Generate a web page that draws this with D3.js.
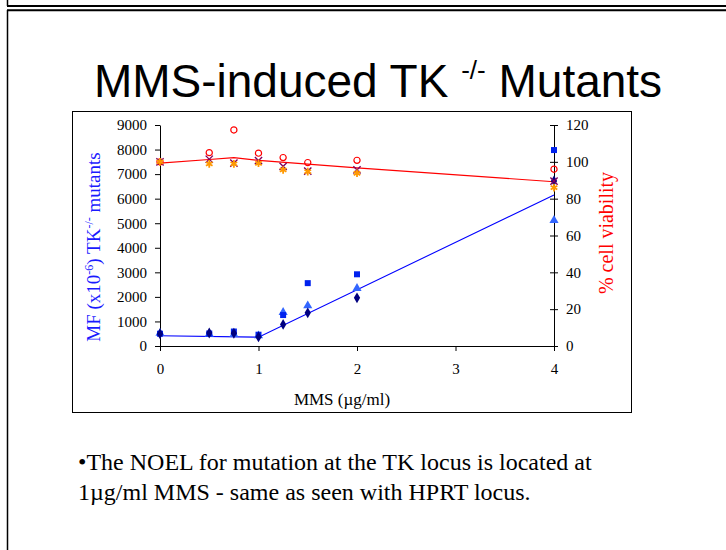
<!DOCTYPE html>
<html>
<head>
<meta charset="utf-8">
<script src="https://cdn.jsdelivr.net/npm/d3@7"></script>
<style>
  body { margin: 0; background: #fff; }
  svg { display: block; }
</style>
</head>
<body>
<svg width="726" height="550"></svg>
<script>
// doses (ug/ml MMS)
var doses = [0, 0.5, 0.75, 1, 1.25, 1.5, 2, 4];

// mutant frequency (x10-6), one array per experiment
var mfSquares   = [500, 510, 590, 460, 1260, 2560, 2920, 7980];
var mfTriangles = [520, 480, 470, 420, 1370, 1640, 2350, 5120];
var mfDiamonds  = [500, 530, 520, 370, 880, 1350, 1960, 6720];

// % cell viability, one array per experiment
var viaCircles   = [100, 105, 117.3, 104.7, 102.3, 99.6, 100.8, 96];
var viaCrosses   = [100, 101.4, 99.3, 100.7, 97.5, 95, 95.6, 89.5];
var viaStars     = [100, 98.9, 98.9, 99.2, 95.6, 94.7, 93.8, 86];

// trend lines
var mfFitDoses = [0, 1, 4];
var mfFit      = [420, 360, 6150];
var viaFitDoses = [0, 0.5, 0.75, 1, 2, 4];
var viaFit      = [99.3, 101.3, 102.3, 100.8, 96.7, 89.2];

// ticks
var xTicks  = [0, 1, 2, 3, 4];
var mfTicks = [0, 1000, 2000, 3000, 4000, 5000, 6000, 7000, 8000, 9000];
var viaTicks = [0, 20, 40, 60, 80, 100, 120];

var svg = d3.select("svg");
var serif = "'Liberation Serif', 'Times New Roman', serif";

// slide frame
svg.append("line").attr("x1", 7.5).attr("x2", 7.5).attr("y1", 0).attr("y2", 6)
    .attr("stroke", "#000").attr("stroke-width", 1.5);
svg.append("line").attr("x1", 7).attr("x2", 726).attr("y1", 6).attr("y2", 6)
    .attr("stroke", "#000").attr("stroke-width", 2);
svg.append("line").attr("x1", 7).attr("x2", 726).attr("y1", 10.2).attr("y2", 10.2)
    .attr("stroke", "#000").attr("stroke-width", 2);
svg.append("line").attr("x1", 7.5).attr("x2", 7.5).attr("y1", 10).attr("y2", 550)
    .attr("stroke", "#000").attr("stroke-width", 1.5);

// title
var title = svg.append("text")
    .attr("x", 378).attr("y", 97)
    .attr("text-anchor", "middle")
    .style("font-family", "'Liberation Sans', Arial, sans-serif")
    .style("font-size", "46px")
    .attr("fill", "#000");
title.append("tspan").text("MMS-induced TK ");
title.append("tspan").attr("dy", -18).style("font-size", "26px").text("-/-");
title.append("tspan").attr("dy", 18).text(" Mutants");

// chart box
svg.append("rect")
    .attr("x", 72.5).attr("y", 111.5).attr("width", 559).attr("height", 301)
    .attr("fill", "#fff").attr("stroke", "#000").attr("stroke-width", 1);

var x = d3.scaleLinear().domain([0, 4]).range([160, 554]);
var yL = d3.scaleLinear().domain([0, 9000]).range([346, 125]);
var yR = d3.scaleLinear().domain([0, 120]).range([346, 125]);

// axes
var fmt = d3.format("d");
var gx = svg.append("g")
    .attr("transform", "translate(0,346)")
    .call(d3.axisBottom(x).tickValues(xTicks).tickFormat(fmt).tickSize(5).tickPadding(12).tickSizeOuter(0));
var gl = svg.append("g")
    .attr("transform", "translate(160,0)")
    .call(d3.axisLeft(yL).tickValues(mfTicks).tickFormat(fmt).tickSize(5).tickPadding(8).tickSizeOuter(0));
var gr = svg.append("g")
    .attr("transform", "translate(554,0)")
    .call(d3.axisRight(yR).tickValues(viaTicks).tickFormat(fmt).tickSize(4).tickPadding(8).tickSizeOuter(0));
gr.selectAll(".tick line").attr("x1", -4);

[gx, gl, gr].forEach(function(g) {
  g.select(".domain").attr("stroke", "#000");
  g.selectAll(".tick line").attr("stroke", "#000");
  g.selectAll("text").style("font-family", serif).style("font-size", "15px").attr("fill", "#000");
});

// trend lines
var lineMF = d3.line().x(function(d) { return x(d[0]); }).y(function(d) { return yL(d[1]); });
var lineV = d3.line().x(function(d) { return x(d[0]); }).y(function(d) { return yR(d[1]); });

svg.append("path")
    .datum(d3.zip(viaFitDoses, viaFit))
    .attr("d", lineV).attr("fill", "none").attr("stroke", "#ff0000").attr("stroke-width", 1.1);
svg.append("path")
    .datum(d3.zip(mfFitDoses, mfFit))
    .attr("d", lineMF).attr("fill", "none").attr("stroke", "#0000ff").attr("stroke-width", 1.1);

// markers
function drawSymbols(values, yScale, type, size, fill, stroke, sw) {
  svg.append("g").selectAll("path")
      .data(d3.zip(doses, values))
    .enter().append("path")
      .attr("transform", function(d) { return "translate(" + x(d[0]) + "," + yScale(d[1]) + ")"; })
      .attr("d", d3.symbol().type(type).size(size))
      .attr("fill", fill)
      .attr("stroke", stroke)
      .attr("stroke-width", sw);
}

drawSymbols(mfTriangles, yL, d3.symbolTriangle, 36, "#3366ff", "none", 0);
drawSymbols(mfSquares, yL, d3.symbolSquare, 36, "#0022ee", "none", 0);
drawSymbols(mfDiamonds, yL, d3.symbolDiamond, 34, "#000080", "none", 0);

drawSymbols(viaCircles, yR, d3.symbolCircle, 30, "none", "#ff0000", 1.2);
drawSymbols(viaCrosses, yR, d3.symbolX, 36, "none", "#800060", 1.4);
drawSymbols(viaStars, yR, d3.symbolAsterisk, 40, "none", "#ff9900", 1.8);

// axis titles
var yLabel = svg.append("text")
    .attr("transform", "translate(100,247) rotate(-90)")
    .attr("text-anchor", "middle")
    .style("font-family", serif).style("font-size", "19px")
    .attr("fill", "#1a1aff");
yLabel.append("tspan").text("MF (x10");
yLabel.append("tspan").attr("dy", -7).style("font-size", "12px").text("-6");
yLabel.append("tspan").attr("dy", 7).text(") TK");
yLabel.append("tspan").attr("dy", -7).style("font-size", "12px").text("-/-");
yLabel.append("tspan").attr("dy", 7).text(" mutants");

svg.append("text")
    .attr("transform", "translate(613,233) rotate(-90)")
    .attr("text-anchor", "middle")
    .style("font-family", serif).style("font-size", "20px")
    .attr("fill", "#ff0000")
    .text("% cell viability");

svg.append("text")
    .attr("x", 342).attr("y", 405)
    .attr("text-anchor", "middle")
    .style("font-family", serif).style("font-size", "17px")
    .attr("fill", "#000")
    .text("MMS (\u00b5g/ml)");

// bullet text
svg.append("text")
    .attr("x", 78).attr("y", 470)
    .style("font-family", serif).style("font-size", "24px")
    .attr("fill", "#000")
    .text("\u2022The NOEL for mutation at the TK locus is located at");
svg.append("text")
    .attr("x", 78).attr("y", 500)
    .style("font-family", serif).style("font-size", "24px")
    .attr("fill", "#000")
    .text("1\u00b5g/ml MMS - same as seen with HPRT locus.");
</script>
</body>
</html>
